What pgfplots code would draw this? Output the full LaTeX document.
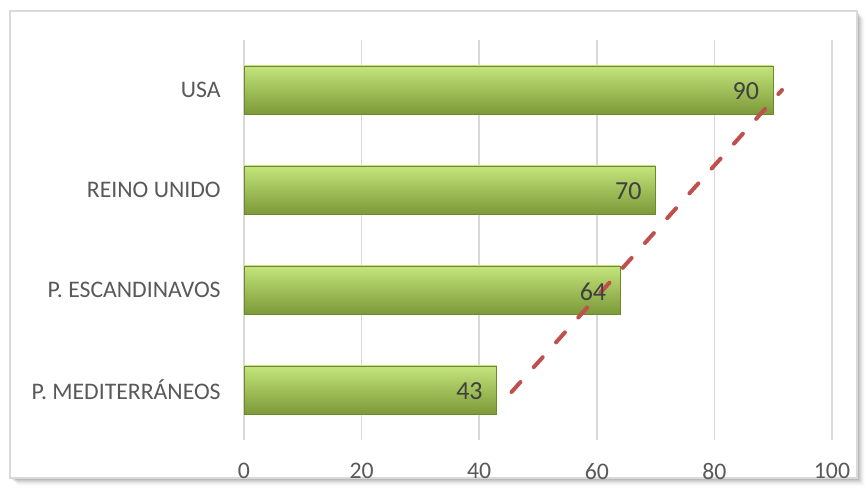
\documentclass[border=0pt]{standalone}
\usepackage{pgfplots}
\pgfplotsset{compat=1.18}
\usepackage{fontspec}
\setmainfont{Carlito}
\definecolor{tickgray}{HTML}{595959}
\definecolor{labgray}{HTML}{404040}
\definecolor{gridgray}{HTML}{D9D9D9}
\definecolor{trend}{HTML}{C0504D}
\definecolor{bartop}{HTML}{C4E47C}
\definecolor{barmid}{HTML}{A0C654}
\definecolor{barbot}{HTML}{7C9A38}
\definecolor{baredge}{HTML}{6A8A2C}
\begin{document}
\begin{tikzpicture}
\begin{scope}[x=0.75pt,y=0.75pt]
\useasboundingbox (0,0) rectangle (867,495);
\fill[white] (0,0) rectangle (867,495);
% frame shadow
\foreach \i/\o in {1/0.10,2/0.08,3/0.06,4/0.05,5/0.04,6/0.03,7/0.02,8/0.015}{
  \fill[black,opacity=\o] (10+\i,17-\i) rectangle (857+\i,484-\i);
}
\fill[white] (10,17) rectangle (857,484);
\draw[gridgray,line width=1.5] (10,17) rectangle (857,484);
\end{scope}
\begin{axis}[
  at={(183pt,41.25pt)}, anchor=south west,
  scale only axis, width=441pt, height=300pt,
  xmin=0, xmax=100, ymin=-0.5, ymax=3.5,
  xtick={0,20,...,100},
  ytick={0,1,2,3},
  yticklabels={P. MEDITERRÁNEOS, P. ESCANDINAVOS, REINO UNIDO, USA},
  axis line style={draw=none},
  major tick length=0pt,
  xmajorgrids, grid style={gridgray, line width=1.2pt},
  /pgf/number format/assume math mode=true,
  tick label style={font=\fontsize{17.8}{21}\selectfont, text=tickgray},
  xticklabel style={yshift=-14pt},
  yticklabel style={xshift=-14pt},
  clip=false,
  bar style/.style={xbar, bar width=36pt, bar shift=0pt, draw=baredge, line width=0.6pt,
    top color=bartop, middle color=barmid, bottom color=barbot,
    nodes near coords,
    every node near coord/.append style={anchor=east, xshift=-7pt, yshift=-1pt, text=labgray, font=\fontsize{19.5}{23}\selectfont}},
]
\addplot[bar style] coordinates {(43,0)};
\addplot[bar style] coordinates {(64,1)};
\addplot[bar style] coordinates {(70,2)};
\addplot[bar style] coordinates {(90,3)};
\addplot[trend, line width=3pt, line cap=round, dash pattern=on 10pt off 15pt]
  coordinates {(45.5,-0.02) (91.5,3.0)};
\end{axis}
\end{tikzpicture}
\end{document}
